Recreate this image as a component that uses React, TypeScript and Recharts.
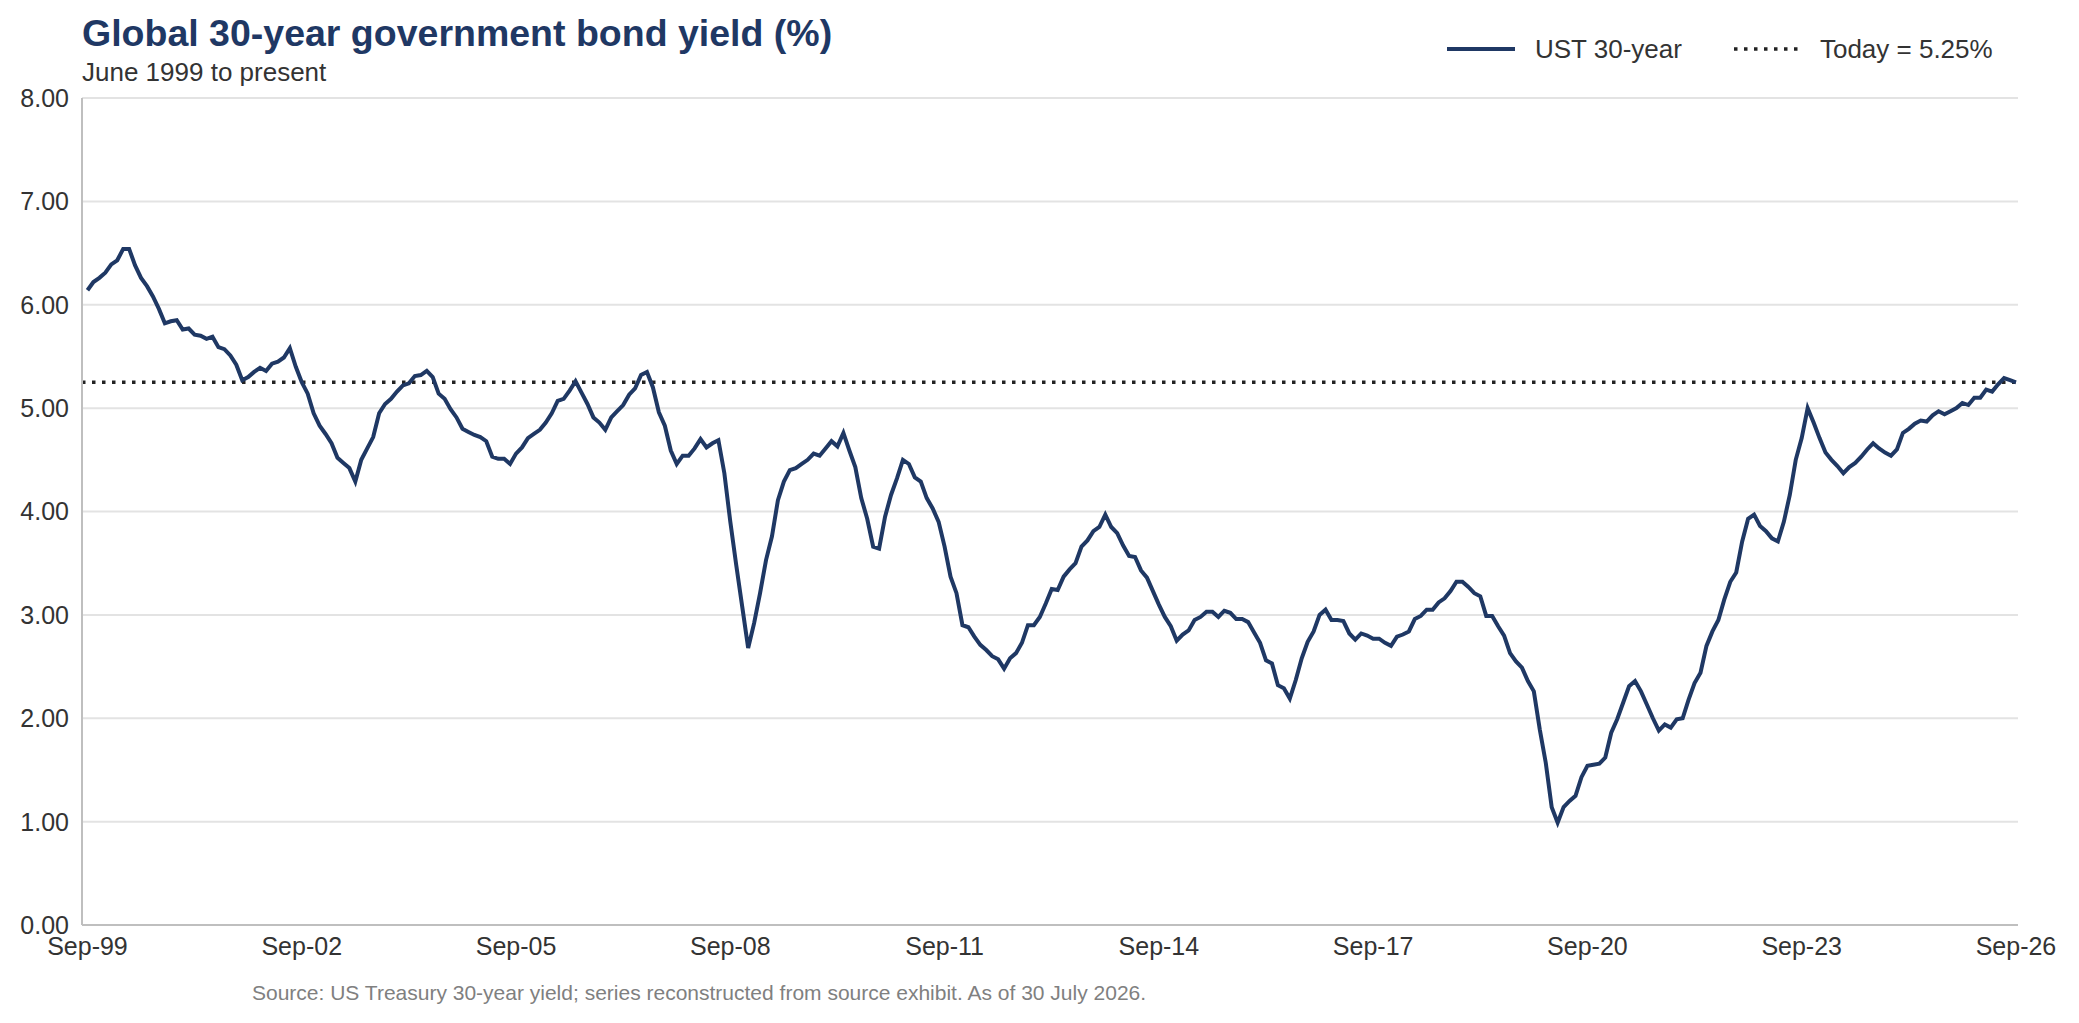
import React from 'react';
import { LineChart, Line, XAxis, YAxis, CartesianGrid, ReferenceLine, Legend } from 'recharts';

// monthly UST 30-year yield, Sep-99 onwards, one array per 3-year block
const sep99ToAug02 = [
  6.14, 6.22, 6.26, 6.31, 6.39, 6.43, 6.54, 6.54, 6.38, 6.26, 6.18, 6.08,
  5.96, 5.82, 5.84, 5.85, 5.76, 5.77, 5.71, 5.70, 5.67, 5.69, 5.59, 5.57,
  5.51, 5.42, 5.27, 5.30, 5.35, 5.39, 5.36, 5.43, 5.45, 5.49, 5.58, 5.40,
];
const sep02ToAug05 = [
  5.25, 5.14, 4.95, 4.83, 4.75, 4.66, 4.52, 4.47, 4.42, 4.29, 4.50, 4.61,
  4.72, 4.95, 5.04, 5.09, 5.16, 5.22, 5.24, 5.31, 5.32, 5.36, 5.30, 5.14,
  5.09, 4.99, 4.91, 4.80, 4.77, 4.74, 4.72, 4.68, 4.53, 4.51, 4.51, 4.46,
];
const sep05ToAug08 = [
  4.56, 4.62, 4.71, 4.75, 4.79, 4.86, 4.95, 5.07, 5.09, 5.17, 5.26, 5.15,
  5.04, 4.91, 4.86, 4.79, 4.91, 4.97, 5.03, 5.13, 5.19, 5.32, 5.35, 5.20,
  4.96, 4.83, 4.59, 4.46, 4.54, 4.54, 4.61, 4.70, 4.62, 4.66, 4.69, 4.37,
];
const sep08ToAug11 = [
  3.90, 3.48, 3.08, 2.68, 2.92, 3.21, 3.53, 3.76, 4.11, 4.29, 4.40, 4.42,
  4.46, 4.50, 4.56, 4.54, 4.61, 4.68, 4.63, 4.76, 4.59, 4.43, 4.13, 3.93,
  3.66, 3.64, 3.95, 4.16, 4.32, 4.50, 4.46, 4.33, 4.29, 4.13, 4.03, 3.90,
];
const sep11ToAug14 = [
  3.66, 3.37, 3.21, 2.90, 2.88, 2.79, 2.71, 2.66, 2.60, 2.57, 2.48, 2.58,
  2.63, 2.73, 2.90, 2.90, 2.98, 3.11, 3.25, 3.24, 3.37, 3.44, 3.50, 3.66,
  3.72, 3.81, 3.85, 3.97, 3.85, 3.79, 3.67, 3.57, 3.56, 3.43, 3.36, 3.23,
];
const sep14ToAug17 = [
  3.10, 2.98, 2.89, 2.75, 2.81, 2.85, 2.95, 2.98, 3.03, 3.03, 2.98, 3.04,
  3.02, 2.96, 2.96, 2.93, 2.83, 2.73, 2.56, 2.53, 2.32, 2.29, 2.19, 2.37,
  2.58, 2.74, 2.84, 3.00, 3.05, 2.95, 2.95, 2.94, 2.82, 2.76, 2.82, 2.80,
];
const sep17ToAug20 = [
  2.77, 2.77, 2.73, 2.70, 2.79, 2.81, 2.84, 2.96, 2.99, 3.05, 3.05, 3.12,
  3.16, 3.23, 3.32, 3.32, 3.27, 3.21, 3.18, 2.99, 2.99, 2.89, 2.80, 2.63,
  2.55, 2.49, 2.36, 2.26, 1.89, 1.57, 1.14, 0.99, 1.14, 1.20, 1.25, 1.43,
];
const sep20ToAug23 = [
  1.54, 1.55, 1.56, 1.62, 1.86, 1.99, 2.15, 2.31, 2.36, 2.26, 2.13, 2.00,
  1.88, 1.94, 1.91, 1.99, 2.00, 2.18, 2.34, 2.44, 2.70, 2.84, 2.95, 3.15,
  3.32, 3.41, 3.71, 3.93, 3.97, 3.86, 3.81, 3.74, 3.71, 3.90, 4.16, 4.50,
];
const sep23ToSep26 = [
  4.71, 5.00, 4.86, 4.71, 4.57, 4.50, 4.44, 4.37, 4.43, 4.47, 4.53, 4.60,
  4.66, 4.61, 4.57, 4.54, 4.60, 4.76, 4.80, 4.85, 4.88, 4.87, 4.93, 4.97,
  4.94, 4.97, 5.00, 5.05, 5.03, 5.10, 5.10, 5.18, 5.16, 5.23, 5.29, 5.27,
  5.25,
];

const tickLabels = ['Sep-99', 'Sep-02', 'Sep-05', 'Sep-08', 'Sep-11', 'Sep-14', 'Sep-17', 'Sep-20', 'Sep-23', 'Sep-26'];
const yTicks = [0, 1, 2, 3, 4, 5, 6, 7, 8];
const todayYield = 5.25;

const ust30 = [
  ...sep99ToAug02, ...sep02ToAug05, ...sep05ToAug08, ...sep08ToAug11, ...sep11ToAug14,
  ...sep14ToAug17, ...sep17ToAug20, ...sep20ToAug23, ...sep23ToSep26,
];
const data = ust30.map((v, i) => ({ i, ust: v }));
const xTicks = tickLabels.map((_, n) => n * 36);

const NAVY = '#1F3864';
const FONT = '"Liberation Sans", Arial, sans-serif';

function ChartLegend() {
  return (
    <div style={{ display: 'flex', alignItems: 'center', fontFamily: FONT, fontSize: 26, color: '#333', lineHeight: 1 }}>
      <svg width={68} height={10}><line x1={0} y1={5} x2={68} y2={5} stroke={NAVY} strokeWidth={4} /></svg>
      <span style={{ marginLeft: 20 }}>UST 30-year</span>
      <svg width={64} height={10} style={{ marginLeft: 52 }}>
        <line x1={0} y1={5} x2={64} y2={5} stroke="#222" strokeWidth={3.5} strokeDasharray="3.5 6.5" />
      </svg>
      <span style={{ marginLeft: 22 }}>Today = 5.25%</span>
    </div>
  );
}

export default function App() {
  return (
    <div style={{ position: 'relative', width: 2079, height: 1023, margin: -8, background: '#fff', fontFamily: FONT }}>
      <div style={{ position: 'absolute', left: 82, top: 15, fontSize: 37.5, lineHeight: 1, fontWeight: 700, color: NAVY }}>
        Global 30-year government bond yield (%)
      </div>
      <div style={{ position: 'absolute', left: 82, top: 59, fontSize: 26, lineHeight: 1, color: '#333' }}>
        June 1999 to present
      </div>
      <LineChart width={2079} height={1023} data={data} margin={{ top: 98, right: 61, bottom: 38, left: 22 }}>
        <CartesianGrid vertical={false} stroke="#E3E3E3" strokeWidth={2} />
        <XAxis
          dataKey="i"
          type="number"
          domain={[-0.92, 324.34]}
          ticks={xTicks}
          tickFormatter={(v: number) => tickLabels[v / 36]}
          interval={0}
          height={60}
          axisLine={{ stroke: '#BFBFBF', strokeWidth: 2 }}
          tickLine={false}
          tickSize={0}
          tickMargin={12}
          tick={{ fill: '#333', fontSize: 25, fontFamily: FONT }}
        />
        <YAxis
          domain={[0, 8]}
          ticks={yTicks}
          tickFormatter={(v: number) => v.toFixed(2)}
          width={60}
          axisLine={{ stroke: '#BFBFBF', strokeWidth: 2 }}
          tickLine={false}
          tickSize={0}
          tickMargin={13}
          tick={{ fill: '#333', fontSize: 25, fontFamily: FONT }}
        />
        <ReferenceLine y={todayYield} stroke="#222" strokeWidth={3.5} strokeDasharray="3.5 6.5" />
        <Line
          type="linear"
          dataKey="ust"
          stroke={NAVY}
          strokeWidth={4}
          dot={false}
          isAnimationActive={false}
        />
        <Legend
          layout="horizontal"
          verticalAlign="middle"
          align="center"
          content={() => <ChartLegend />}
          wrapperStyle={{ top: 36, left: 1447, width: 620 }}
        />
      </LineChart>
      <div style={{ position: 'absolute', left: 252, top: 982, fontSize: 21, lineHeight: 1, color: '#808080' }}>
        Source: US Treasury 30-year yield; series reconstructed from source exhibit. As of 30 July 2026.
      </div>
    </div>
  );
}
